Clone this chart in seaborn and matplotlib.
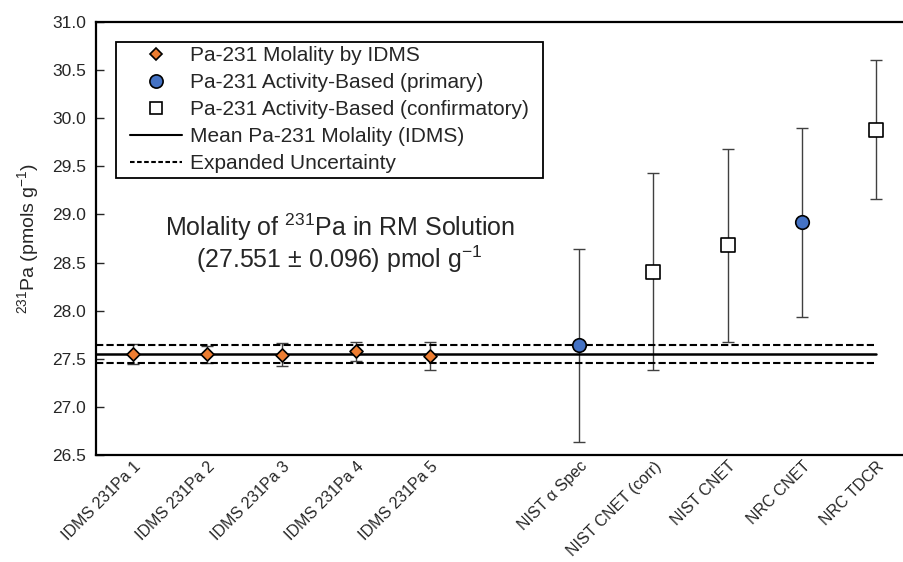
import numpy as np
import pandas as pd
import matplotlib
matplotlib.use("Agg")
import matplotlib.pyplot as plt
import matplotlib.transforms as mtransforms
from matplotlib.patches import Rectangle
import seaborn as sns
from matplotlib.lines import Line2D

# category slots along the x axis (one empty slot between IDMS and activity results)
categories = ["IDMS 231Pa 1", "IDMS 231Pa 2", "IDMS 231Pa 3", "IDMS 231Pa 4",
              "IDMS 231Pa 5", "", "NIST α Spec", "NIST CNET (corr)",
              "NIST CNET", "NRC CNET", "NRC TDCR"]

idms_labels = ["IDMS 231Pa 1", "IDMS 231Pa 2", "IDMS 231Pa 3", "IDMS 231Pa 4", "IDMS 231Pa 5"]
idms_values = [27.553, 27.547, 27.543, 27.580, 27.532]
idms_unc = [0.105, 0.085, 0.118, 0.100, 0.147]

primary_labels = ["NIST α Spec", "NRC CNET"]
primary_values = [27.64, 28.92]
primary_unc = [1.00, 0.98]

confirm_labels = ["NIST CNET (corr)", "NIST CNET", "NRC TDCR"]
confirm_values = [28.405, 28.68, 29.88]
confirm_unc = [1.025, 1.00, 0.72]

mean_molality = 27.551
expanded_unc = 0.096

group_names = ["Pa-231 Molality by IDMS",
               "Pa-231 Activity-Based (primary)",
               "Pa-231 Activity-Based (confirmatory)"]

rows = []
for name, labels, vals, uncs in zip(group_names,
                                    [idms_labels, primary_labels, confirm_labels],
                                    [idms_values, primary_values, confirm_values],
                                    [idms_unc, primary_unc, confirm_unc]):
    for lab, v, u in zip(labels, vals, uncs):
        rows.append({"label": lab, "x": categories.index(lab) + 1,
                     "value": v, "unc": u, "group": name})
df = pd.DataFrame(rows)

sns.set_theme(style="white")
plt.rcParams["font.family"] = ["Liberation Sans", "DejaVu Sans"]
plt.rcParams["mathtext.fontset"] = "custom"
plt.rcParams["mathtext.rm"] = "Liberation Sans"
plt.rcParams["mathtext.default"] = "regular"

fig = plt.figure(figsize=(9.04, 5.62), dpi=100)
ax = fig.add_axes([0.106, 0.19, 0.894, 0.771])

ax.errorbar(df["x"], df["value"], yerr=df["unc"], fmt="none",
            ecolor="#404040", elinewidth=1.0, capsize=4.5, capthick=1.0, zorder=2)

colors = {group_names[0]: "#ED7D31", group_names[1]: "#4472C4", group_names[2]: "white"}
markers = {group_names[0]: "D", group_names[1]: "o", group_names[2]: "s"}
sizes = {group_names[0]: 44, group_names[1]: 95, group_names[2]: 88}
for g in group_names:
    sub = df[df["group"] == g]
    sns.scatterplot(data=sub, x="x", y="value", ax=ax, color=colors[g],
                    marker=markers[g], s=sizes[g], edgecolor="black",
                    linewidth=1.2, zorder=4, legend=False)

# mean and expanded uncertainty lines
x_end = len(categories)
ax.plot([0.5, x_end], [mean_molality] * 2, color="black", lw=1.8, zorder=3)
for off in (-expanded_unc, expanded_unc):
    ax.plot([0.5, x_end - 0.03], [mean_molality + off] * 2, color="black",
            lw=1.5, dashes=(3.5, 1.5), zorder=3)

ax.set_xlim(0.5, 11.37)
ax.set_ylim(26.5, 31.0)
yt = np.arange(26.5, 31.01, 0.5)
ax.set_yticks(yt)
ax.set_yticklabels([f"{t:.1f}" for t in yt], fontsize=12.5)
ax.set_xticks(range(1, len(categories) + 1))
ax.set_xticklabels(categories, rotation=45, ha="right", va="top",
                   rotation_mode="anchor", fontsize=11.5)
shift = mtransforms.ScaledTranslation(-4 / 100, 0, fig.dpi_scale_trans)
for lbl in ax.get_xticklabels():
    lbl.set_transform(lbl.get_transform() + shift)
ax.tick_params(axis="y", direction="in", length=6, width=1, pad=7, left=True)
ax.tick_params(axis="x", length=0, pad=2.5)
ax.set_xlabel("")
ax.set_ylabel("$^{231}$Pa (pmols g$^{-1}$)", fontsize=14, labelpad=8)

for side in ["left", "bottom", "top"]:
    ax.spines[side].set_color("black")
    ax.spines[side].set_linewidth(1.6)
ax.spines["right"].set_visible(False)

ax.text(3.78, 28.70, "Molality of $^{231}$Pa in RM Solution\n(27.551 ± 0.096) pmol g$^{-1}$",
        ha="center", va="center", fontsize=18, linespacing=1.0)

handles = [
    Line2D([], [], ls="none", marker="D", markersize=6.5, markerfacecolor="#ED7D31",
           markeredgecolor="black", markeredgewidth=1.2),
    Line2D([], [], ls="none", marker="o", markersize=9.5, markerfacecolor="#4472C4",
           markeredgecolor="black", markeredgewidth=1.2),
    Line2D([], [], ls="none", marker="s", markersize=9, markerfacecolor="white",
           markeredgecolor="black", markeredgewidth=1.2),
    Line2D([], [], color="black", lw=1.5),
    Line2D([], [], color="black", lw=1.5, dashes=(2.2, 1.2)),
]
labels = group_names + ["Mean Pa-231 Molality (IDMS)", "Expanded Uncertainty"]
leg = ax.legend(handles, labels, loc="upper left", bbox_to_anchor=(0.1388, 0.926),
                bbox_transform=fig.transFigure, borderaxespad=0, fontsize=15,
                frameon=False, handlelength=2.5, handletextpad=0.4,
                labelspacing=0.385, borderpad=0.22)

# legend box: wider horizontal padding than vertical, so draw it by hand
fig.canvas.draw()
bb = leg.get_window_extent()
inv = fig.transFigure.inverted()
(x0, y0), (x1, y1) = inv.transform([(bb.x0 - 9.5, bb.y0), (bb.x1 + 9.5, bb.y1)])
fig.add_artist(Rectangle((x0, y0), x1 - x0, y1 - y0, transform=fig.transFigure,
                         facecolor="none", edgecolor="black", lw=1.3, zorder=5))

fig.savefig("out.png", dpi=100)
